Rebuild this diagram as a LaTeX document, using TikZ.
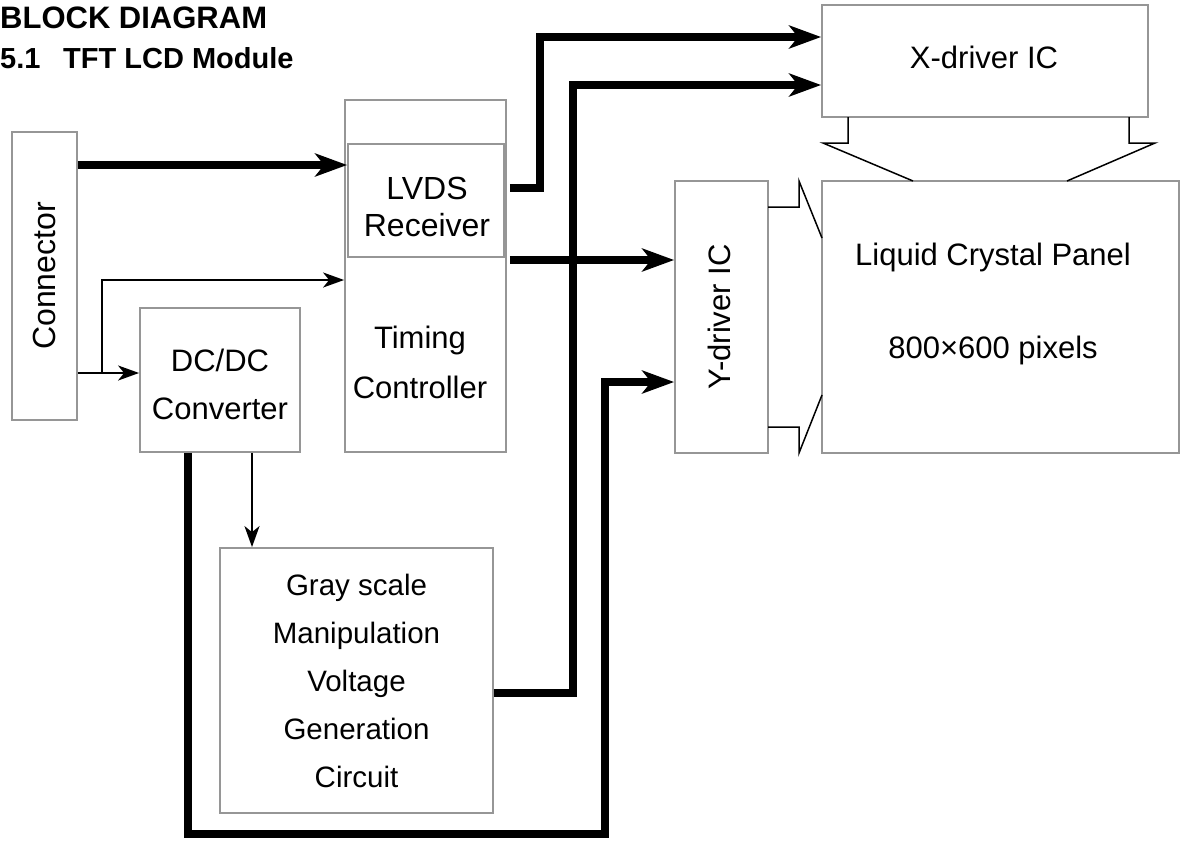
\documentclass[tikz,border=0pt]{standalone}
\usepackage{fontspec}
\setmainfont{Liberation Sans}
\usetikzlibrary{arrows.meta,calc}
\definecolor{boxgray}{RGB}{150,150,150}
\tikzset{
  box/.style={draw=boxgray, line width=1.8pt, inner sep=0pt, align=center, font=\fontsize{31}{37}\selectfont},
  lbl/.style={inner sep=0pt, align=center},
  bus/.style={line width=8pt, -{Stealth[length=32pt,width=23pt,inset=9pt]}},
  sig/.style={line width=2pt, -{Stealth[length=21pt,width=15pt,inset=6pt]}},
  funnel/.style={line width=1.5pt},
}
\begin{document}
\begin{tikzpicture}[x=1pt,y=-1pt]
\useasboundingbox (0,0) rectangle (1180,841);
% headings
\node[anchor=base west, inner sep=0pt, font=\bfseries\fontsize{31}{36}\selectfont] (title) at (0,28) {BLOCK DIAGRAM};
\node[anchor=base west, inner sep=0pt, font=\bfseries\fontsize{29}{34}\selectfont] (secnum) at (0,68) {5.1};
\node[anchor=base west, inner sep=0pt, font=\bfseries\fontsize{29}{34}\selectfont] (sectitle) at (63,68) {TFT LCD Module};
% boxes
\node[box, font=\fontsize{32}{37}\selectfont, minimum width=65pt, minimum height=288pt] (conn) at (44.5,276) {\rotatebox{90}{Connector}};
\node[box, minimum width=161pt, minimum height=352pt] (tc) at (425.5,276) {};
\node[box, minimum width=156pt, minimum height=113pt] (lvds) at (426,200.5) {};
\node[lbl, font=\fontsize{32}{37}\selectfont] (lvdslabel) at (427,207) {LVDS\\Receiver};
\node[lbl, font=\fontsize{31}{50}\selectfont] (tclabel) at (420,362) {Timing\\Controller};
\node[box, minimum width=160pt, minimum height=144pt] (dcdc) at (220,380) {};
\node[lbl, font=\fontsize{31}{48}\selectfont] (dcdclabel) at (220,384) {DC/DC\\Converter};
\node[box, font=\fontsize{29.5}{48}\selectfont, minimum width=273pt, minimum height=265pt] (gray) at (356.5,680.5) {Gray scale\\Manipulation\\Voltage\\Generation\\Circuit};
\node[box, minimum width=326pt, minimum height=112pt] (xdrv) at (985,61) {};
\node[lbl, font=\fontsize{31}{37}\selectfont] (xdrvlabel) at (984,57) {X-driver IC};
\node[box, minimum width=93pt, minimum height=272pt] (ydrv) at (721.5,317) {};
\node[lbl, font=\fontsize{31}{37}\selectfont, rotate=90] (ydrvlabel) at (719,317) {Y-driver IC};
\node[box, minimum width=357pt, minimum height=272pt] (panel) at (1000.5,317) {};
\node[lbl, font=\fontsize{31}{93}\selectfont] (panellabel) at (993,304) {Liquid Crystal Panel\\800×600 pixels};
% connectors
\draw[bus] (conn.east |- 0,165) -- (lvds.west |- 0,165);
\draw[sig] (conn.east |- 0,373) -- (dcdc.west |- 0,373);
\coordinate (branch) at (102,373);
\draw[sig] (branch) -- (102,280) -- (tc.west |- 0,280);
\draw[sig] (dcdc.south -| 252,0) -- (gray.north -| 252,0);
\draw[bus] (dcdc.south -| 188,0) -- (188,834) -- (605,834) -- (605,382) -- (ydrv.west |- 0,382);
\draw[bus] (gray.east |- 0,693) -- (573,693) -- (573,85) -- (xdrv.west |- 0,85);
\draw[bus] ($(lvds.east |- 0,188)+(5,0)$) -- (540,188) -- (540,37) -- (xdrv.west |- 0,37);
\draw[bus] ($(lvds.east |- 0,260)+(5,0)$) -- (ydrv.west |- 0,260);
% funnels
\draw[funnel] (848,117) -- (848,143) -- (823,143) -- (913,181);
\draw[funnel] (1129,117) -- (1129,143) -- (1155,143) -- (1067,181);
\draw[funnel] (768,207) -- (799,207) -- (799,181) -- (822,238);
\draw[funnel] (768,427) -- (799,427) -- (799,453) -- (822,395);
\end{tikzpicture}
\end{document}
